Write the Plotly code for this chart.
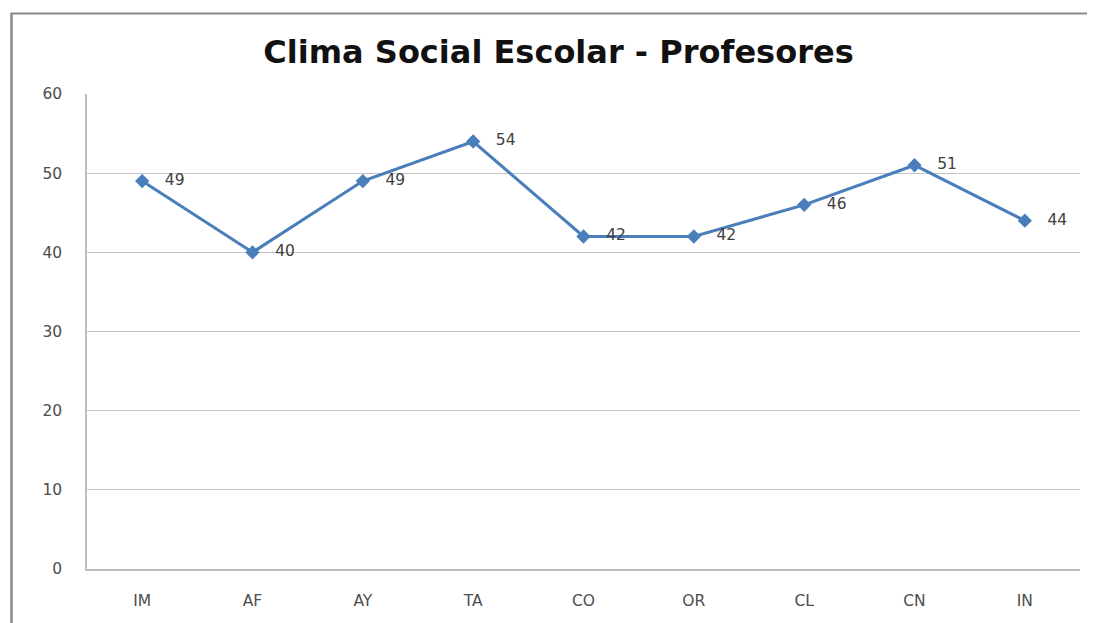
import plotly.graph_objects as go

categories = ["IM", "AF", "AY", "TA", "CO", "OR", "CL", "CN", "IN"]
values = [49, 40, 49, 54, 42, 42, 46, 51, 44]
y_ticks = [0, 10, 20, 30, 40, 50, 60]
title_text = "Clima Social Escolar - Profesores"

# page body has an 8px margin; figure sized to fit the 1095x623 window
OFF = 8
W, H = 1095 - OFF, 623 - OFF
ml, mr, mt, mb = 79, 15, 86, 54
pw = W - ml - mr
ph = H - mt - mb


def px_x(p):
    return (p - OFF - ml) / pw


def px_y(p):
    return (H - mb - (p - OFF)) / ph


NB = "\u00a0"
labels = [NB * 3 + str(v) for v in values]

fig = go.Figure()
fig.add_trace(go.Scatter(
    x=categories, y=values,
    mode="lines+markers+text",
    line=dict(color="#4A7EBB", width=3),
    marker=dict(symbol="diamond", size=11, color="#4A7EBB"),
    text=labels,
    textposition="middle right",
    textfont=dict(family="DejaVu Sans", size=15.5, color="#404040"),
    cliponaxis=False,
    showlegend=False,
))

fig.update_layout(
    width=W, height=H,
    margin=dict(l=ml, r=mr, t=mt, b=mb, autoexpand=False),
    paper_bgcolor="white",
    plot_bgcolor="white",
    title=dict(text="<b>" + title_text + "</b>",
               x=(558.5 - OFF) / W, xanchor="center",
               y=1 - (52 - OFF) / H, yanchor="middle",
               font=dict(family="DejaVu Sans", size=32, color="#111111")),
    xaxis=dict(
        type="category",
        range=[-0.5, len(categories) - 0.5],
        showgrid=False,
        showline=True, linecolor="#BEBEBE", linewidth=1.5,
        ticks="", ticklabelstandoff=17,
        tickfont=dict(family="DejaVu Sans", size=15.5, color="#4D4D4D"),
        fixedrange=True,
    ),
    yaxis=dict(
        range=[0, 60],
        tickvals=y_ticks,
        showgrid=True, gridcolor="#C4C4C4", gridwidth=1.3,
        showline=True, linecolor="#BEBEBE", linewidth=1.5,
        zeroline=False,
        ticks="", ticklabelstandoff=20,
        tickfont=dict(family="DejaVu Sans", size=15.5, color="#4D4D4D"),
        fixedrange=True,
    ),
    shapes=[
        dict(type="line", xref="paper", yref="paper",
             x0=px_x(11.5), x1=px_x(11.5), y0=px_y(13), y1=px_y(640),
             line=dict(color="#8A8A8A", width=2.5)),
        dict(type="line", xref="paper", yref="paper",
             x0=px_x(10.5), x1=px_x(1094), y0=px_y(13.5), y1=px_y(13.5),
             line=dict(color="#8A8A8A", width=2)),
    ],
)

fig.write_html("out.html")
